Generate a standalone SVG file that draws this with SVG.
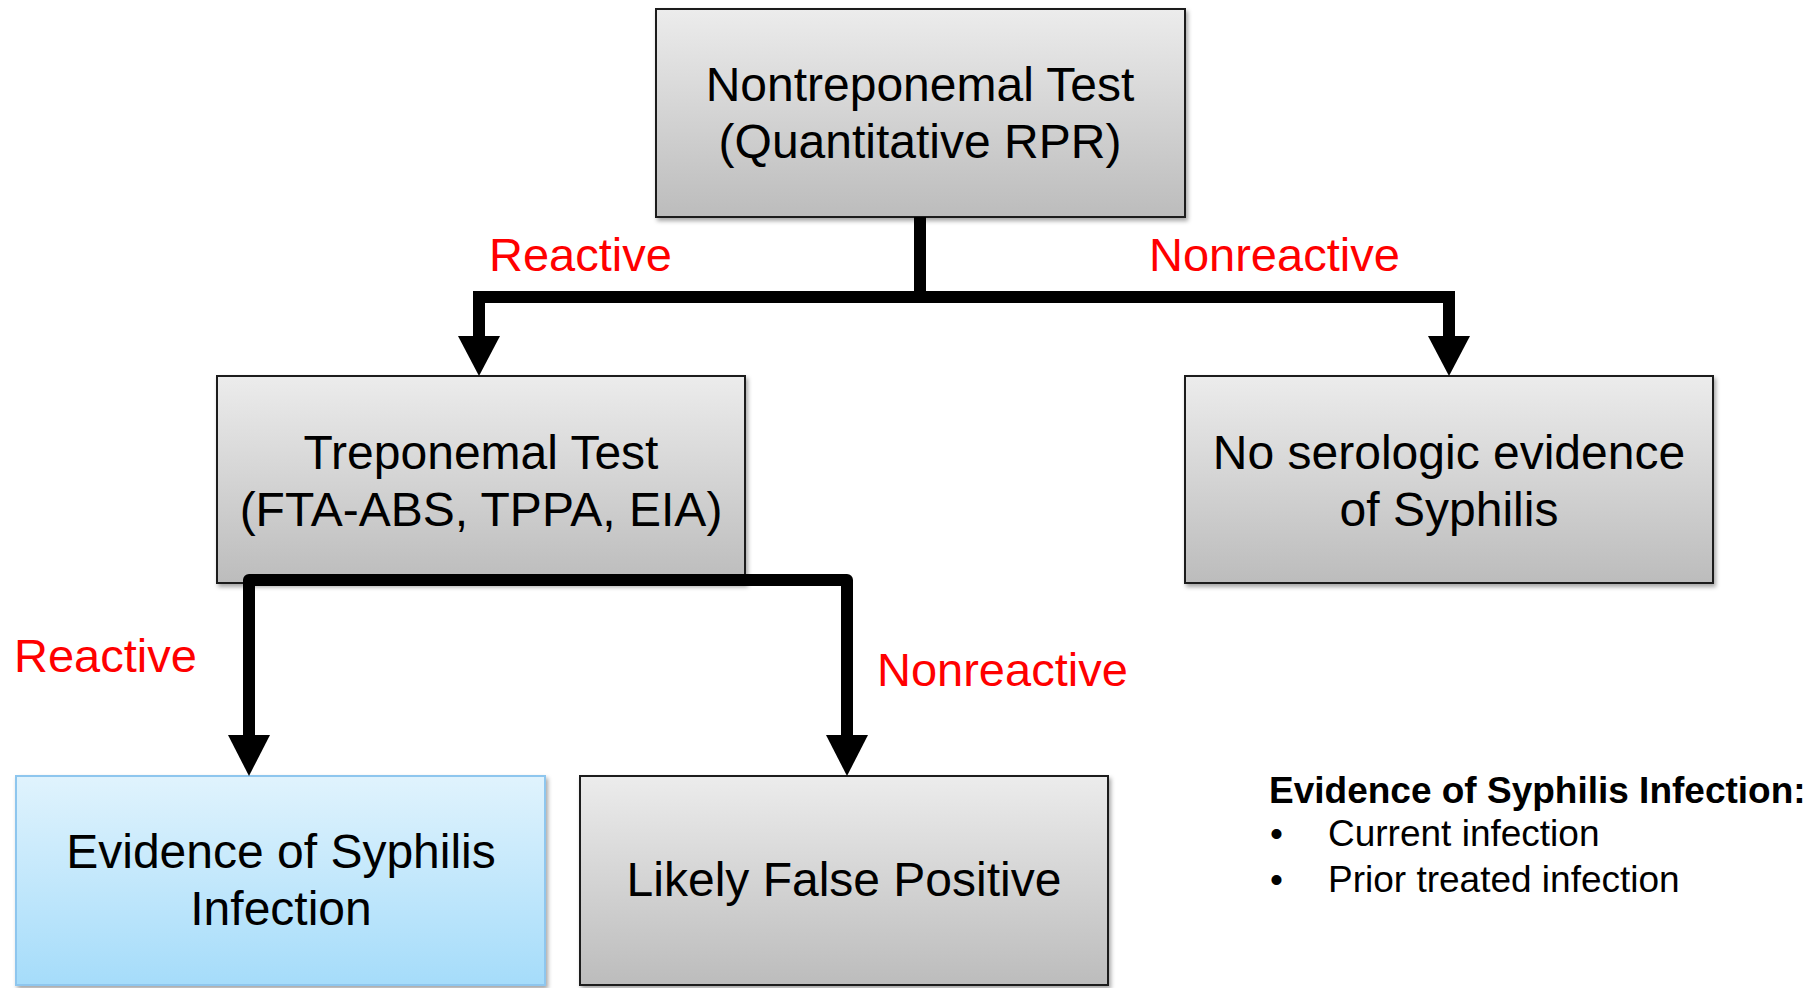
<svg xmlns="http://www.w3.org/2000/svg" width="1811" height="988" viewBox="0 0 1811 988">
<style>
.box{fill:url(#gray);stroke:#1a1a1a;stroke-width:2;filter:url(#sh)}
.blue{fill:url(#blue);stroke:#8ec6ee;stroke-width:2;filter:url(#sh)}
.t{font-family:"Liberation Sans",Arial,sans-serif;font-size:48px;fill:#000;text-anchor:middle}
.lbl{font-family:"Liberation Sans",Arial,sans-serif;font-size:47px;fill:#ff0000}
.leg{font-family:"Liberation Sans",Arial,sans-serif;font-size:37px;fill:#000}
.ln{fill:none;stroke:#000;stroke-width:12}
.ah{fill:#000}
</style>
<defs>
<linearGradient id="gray" x1="0" y1="0" x2="0" y2="1"><stop offset="0" stop-color="#ececec"/><stop offset="1" stop-color="#bcbcbc"/></linearGradient>
<linearGradient id="blue" x1="0" y1="0" x2="0" y2="1"><stop offset="0" stop-color="#e0f3fd"/><stop offset="1" stop-color="#a5dcfa"/></linearGradient>
<filter id="sh" x="-5%" y="-5%" width="110%" height="115%"><feDropShadow dx="2" dy="3" stdDeviation="2" flood-color="#000" flood-opacity="0.35"/></filter>
</defs>
<rect width="1811" height="988" fill="#fff"/>
<g id="n1"><rect class="box" x="656" y="9" width="529" height="208"/><text class="t" x="920" y="101">Nontreponemal Test</text><text class="t" x="920" y="158">(Quantitative RPR)</text></g>
<g id="n2"><rect class="box" x="217" y="376" width="528" height="207"/><text class="t" x="481" y="469">Treponemal Test</text><text class="t" x="481" y="526">(FTA-ABS, TPPA, EIA)</text></g>
<g id="n3"><rect class="box" x="1185" y="376" width="528" height="207"/><text class="t" x="1449" y="469">No serologic evidence</text><text class="t" x="1449" y="526">of Syphilis</text></g>
<g id="n4"><rect class="blue" x="16" y="776" width="529" height="209"/><text class="t" x="281" y="868">Evidence of Syphilis</text><text class="t" x="281" y="925">Infection</text></g>
<g id="n5"><rect class="box" x="580" y="776" width="528" height="209"/><text class="t" x="844" y="896">Likely False Positive</text></g>
<g id="connectors">
<path class="ln" d="M920 217V297M479 339V297H1449V339" stroke-linejoin="miter"/>
<polygon class="ah" points="458,336 500,336 479,376"/>
<polygon class="ah" points="1428,336 1470,336 1449,376"/>
<path class="ln" d="M249 738V580H847V738" stroke-linejoin="round"/>
<polygon class="ah" points="228,735 270,735 249,776"/>
<polygon class="ah" points="826,735 868,735 847,776"/>
<text class="lbl" x="489" y="271">Reactive</text>
<text class="lbl" x="1149" y="271">Nonreactive</text>
<text class="lbl" x="14" y="672">Reactive</text>
<text class="lbl" x="877" y="686">Nonreactive</text>
</g>
<g id="legend">
<text class="leg" x="1269" y="803" font-weight="bold">Evidence of Syphilis Infection:</text>
<text class="leg" x="1270" y="846">•</text><text class="leg" x="1328" y="846">Current infection</text>
<text class="leg" x="1270" y="892">•</text><text class="leg" x="1328" y="892">Prior treated infection</text>
</g>
</svg>
